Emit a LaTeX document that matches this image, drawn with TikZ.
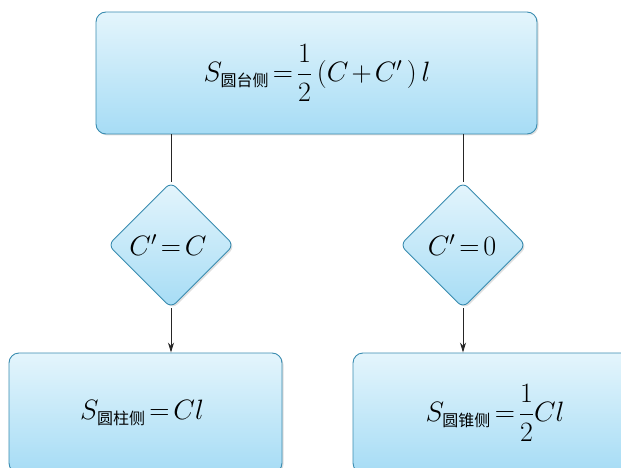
\RequirePackage{fix-cm}
\documentclass[tikz,border=0pt]{standalone}
\usepackage{amsmath}
\usepackage{fontspec}
\newfontfamily\cjk{Noto Sans CJK SC}
\usetikzlibrary{shapes.geometric,arrows.meta,shadows}
\definecolor{boxtop}{HTML}{E4F5FC}
\definecolor{boxbot}{HTML}{A6DCF5}
\definecolor{boxline}{HTML}{3A8CB0}
\thickmuskip=2.5mu\relax
\medmuskip=2mu\relax
\newcommand{\zh}[1]{\mbox{\fontsize{16}{17}\selectfont\cjk #1}}
\tikzset{
  flowbox/.style={draw=boxline, line width=0.9pt, rounded corners=10pt,
    top color=boxtop, bottom color=boxbot, inner sep=0pt,
    drop shadow={shadow xshift=1.5pt, shadow yshift=-1.5pt, opacity=0.25, fill=gray}},
  decide/.style={diamond, draw=boxline, line width=0.9pt, rounded corners=7pt,
    top color=boxtop, bottom color=boxbot, inner sep=0pt,
    minimum width=126pt, minimum height=126pt,
    drop shadow={shadow xshift=1.5pt, shadow yshift=-1.5pt, opacity=0.25, fill=gray}},
  link/.style={draw=black!85, line width=0.9pt},
  arr/.style={link, -{Stealth[length=10pt,width=6pt]}},
  txt/.style={font=\fontsize{28}{32}\selectfont}
}
\begin{document}
\begin{tikzpicture}[x=1pt,y=-1pt]
\useasboundingbox (0,0) rectangle (621,468);
\clip (0,0) rectangle (621,468);
\node[flowbox, minimum width=441pt, minimum height=122pt] (top) at (316.5,73) {};
\node[txt] (toptxt) at (317,73) {$S_{\zh{圆台侧}}=\dfrac{1}{2}\,(C+C'\,)\,l$};
\node[decide] (d1) at (171,245) {};
\node[txt] (d1txt) at (168,245) {$C'=C$};
\node[decide] (d2) at (463,245) {};
\node[txt] (d2txt) at (462,245) {$C'=0$};
\node[flowbox, minimum width=273pt, minimum height=120pt] (b1) at (145.5,413) {};
\node[txt] (b1txt) at (142,413) {$S_{\zh{圆柱侧}}=Cl$};
\node[flowbox, minimum width=287pt, minimum height=120pt] (b2) at (496.5,413) {};
\node[txt] (b2txt) at (495,413) {$S_{\zh{圆锥侧}}=\dfrac{1}{2}Cl$};
\draw[link] (top.south -| d1) -- (d1.north);
\draw[link] (top.south -| d2) -- (d2.north);
\draw[arr] (d1.south) -- (b1.north -| d1);
\draw[arr] (d2.south) -- (b2.north -| d2);
\end{tikzpicture}
\end{document}
